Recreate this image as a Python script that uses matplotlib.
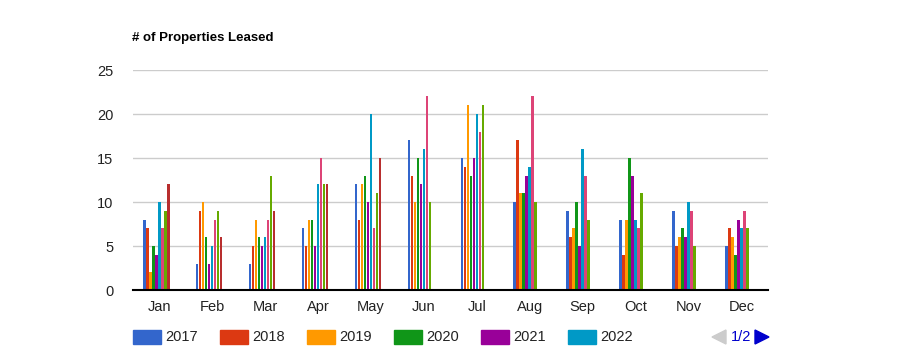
import numpy as np
import matplotlib
matplotlib.use("Agg")
import matplotlib.pyplot as plt
from matplotlib.patches import Rectangle, Polygon

plt.rcParams['font.family'] = ['Liberation Sans', 'DejaVu Sans']

months = ["Jan", "Feb", "Mar", "Apr", "May", "Jun",
          "Jul", "Aug", "Sep", "Oct", "Nov", "Dec"]
years = ["2017", "2018", "2019", "2020", "2021", "2022", "2023", "2024", "2025"]
colors = ["#3366cc", "#dc3912", "#ff9900", "#109618", "#990099",
          "#0099c6", "#dd4477", "#66aa00", "#b82e2e"]

nan = np.nan
v2017 = [8, 3, 3, 7, 12, 17, 15, 10, 9, 8, 9, 5]
v2018 = [7, 9, 5, 5, 8, 13, 14, 17, 6, 4, 5, 7]
v2019 = [2, 10, 8, 8, 12, 10, 21, 11, 7, 8, 6, 6]
v2020 = [5, 6, 6, 8, 13, 15, 13, 11, 10, 15, 7, 4]
v2021 = [4, 3, 5, 5, 10, 12, 15, 13, 5, 13, 6, 8]
v2022 = [10, 5, 6, 12, 20, 16, 20, 14, 16, 8, 10, 7]
v2023 = [7, 8, 8, 15, 7, 22, 18, 22, 13, 7, 9, 9]
v2024 = [9, 9, 13, 12, 11, 10, 21, 10, 8, 11, 5, 7]
v2025 = [12, 6, 9, 12, 15, nan, nan, nan, nan, nan, nan, nan]
series = [v2017, v2018, v2019, v2020, v2021, v2022, v2023, v2024, v2025]

yticks = [0, 5, 10, 15, 20, 25]

fig = plt.figure(figsize=(9, 3.6), dpi=100)
ax = fig.add_axes([133 / 900, 1 - 290 / 360, 635 / 900, 220 / 360])

x = np.arange(len(months))
slot = 0.0567
n = len(series)
for i, (vals, c) in enumerate(zip(series, colors)):
    off = (i - (n - 1) / 2) * slot - 0.06
    ax.bar(x + off, vals, width=slot * 0.85, color=c, zorder=3)

ax.set_xlim(-0.5, 11.5)
ax.set_ylim(0, 25)
ax.set_yticks(yticks)
ax.set_yticklabels([str(t) for t in yticks], fontsize=10.5, color="#222222")
ax.set_xticks(x)
ax.set_xticklabels(months, fontsize=10.5, color="#222222")
ax.tick_params(length=0)
ax.tick_params(axis="y", pad=14)
ax.tick_params(axis="x", pad=7)
ax.grid(axis="y", color="#cccccc", linewidth=1, zorder=0)
for s in ["top", "right", "left"]:
    ax.spines[s].set_visible(False)
ax.spines["bottom"].set_color("black")
ax.spines["bottom"].set_linewidth(1.5)
ax.spines["bottom"].set_zorder(5)

fig.text(132 / 900, 1 - 38 / 360, "# of Properties Leased", fontsize=9.5,
         fontweight="bold", va="center", ha="left")

# legend (page 1 of 2)
ly = 1 - 337 / 360
for k in range(6):
    lx = (133 + k * 87) / 900
    fig.patches.append(Rectangle((lx, ly - 7 / 360), 28 / 900, 14 / 360,
                                 transform=fig.transFigure, color=colors[k]))
    fig.text(lx + 32 / 900, ly, years[k], fontsize=10.5, va="center",
             ha="left", color="#222222")

def tri(pts, c):
    fig.patches.append(Polygon([(px / 900, 1 - py / 360) for px, py in pts],
                               closed=True, transform=fig.transFigure, color=c))

tri([(726, 330), (726, 344), (712, 337)], "#cccccc")
tri([(755, 330), (755, 344), (769, 337)], "#0000cc")
fig.text(741 / 900, ly, "1/2", fontsize=10.5, va="center", ha="center",
         color="#0000cc")

fig.savefig("out.png", dpi=100)
